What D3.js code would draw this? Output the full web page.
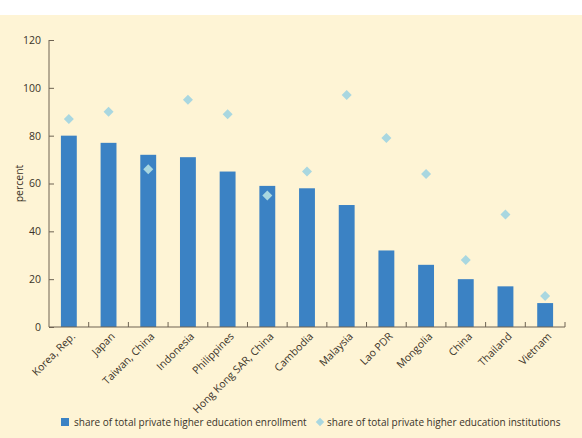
<!DOCTYPE html>
<html lang="en">
<head>
<meta charset="UTF-8">
<title>Private higher education share</title>
<script src="https://d3js.org/d3.v7.min.js"></script>
<style>
  body { margin: 0; background: #ffffff; font-family: 'Open Sans', Arial, sans-serif; }
  svg { display: block; }
</style>
</head>
<body>
<svg id="chart" width="582" height="438"></svg>
<script>
  // data
  const countries = ["Korea, Rep.", "Japan", "Taiwan, China", "Indonesia", "Philippines",
    "Hong Kong SAR, China", "Cambodia", "Malaysia", "Lao PDR", "Mongolia", "China", "Thailand", "Vietnam"];
  const enrollment = [80, 77, 72, 71, 65, 59, 58, 51, 32, 26, 20, 17, 10];
  const institutions = [87, 90, 66, 95, 89, 55, 65, 97, 79, 64, 28, 47, 13];
  const yTicks = [0, 20, 40, 60, 80, 100, 120];

  const svg = d3.select("#chart");
  const W = 582, H = 438;
  const margin = { left: 49, right: 17, top: 40, bottom: 111 };

  // cream panel
  svg.append("rect").attr("x", 0).attr("y", 15).attr("width", W).attr("height", H - 15)
    .attr("fill", "#fef4d5");

  const x = d3.scaleBand().domain(countries)
    .range([margin.left, W - margin.right]).paddingInner(0.6).paddingOuter(0.3);
  const y = d3.scaleLinear().domain([0, 120]).range([H - margin.bottom, margin.top]);

  const axisColor = "#6e6352";
  const textColor = "#3b3328";

  // bars
  svg.append("g").selectAll("rect")
    .data(countries)
    .enter().append("rect")
    .attr("x", d => x(d))
    .attr("width", x.bandwidth())
    .attr("y", (d, i) => y(enrollment[i]))
    .attr("height", (d, i) => y(0) - y(enrollment[i]))
    .attr("fill", "#3b82c4");

  // diamonds (square turned 45deg)
  const dia = d3.symbol().type(d3.symbolSquare).size(50);
  svg.append("g").selectAll("path")
    .data(countries)
    .enter().append("path")
    .attr("d", dia)
    .attr("transform", (d, i) => `translate(${x(d) + x.bandwidth() / 2},${y(institutions[i])}) rotate(45)`)
    .attr("fill", "#a9d7e0");

  // y axis
  const yAxis = d3.axisLeft(y).tickValues(yTicks).tickSize(-5).tickPadding(8);
  const gy = svg.append("g").attr("transform", `translate(${margin.left},0)`).call(yAxis);
  gy.select(".domain").attr("d", `M${0},${y(120)}V${y(0)}`);

  // x axis, ticks on band boundaries
  const bounds = countries.map(c => x(c) - x.step() * x.paddingInner() / 2);
  bounds.push(W - margin.right);
  const gx = svg.append("g");
  gx.append("line").attr("x1", margin.left).attr("x2", W - margin.right)
    .attr("y1", y(0)).attr("y2", y(0)).attr("stroke", axisColor);
  gx.selectAll(".tick").data(bounds.slice(1)).enter().append("line")
    .attr("x1", d => d).attr("x2", d => d)
    .attr("y1", y(0)).attr("y2", y(0) - 5).attr("stroke", axisColor);
  gx.selectAll("text").data(countries).enter().append("text")
    .attr("transform", d => `translate(${x(d) + x.bandwidth() / 2 + 7},${y(0) + 10}) rotate(-45)`)
    .attr("text-anchor", "end")
    .attr("font-size", 10.5)
    .attr("fill", textColor)
    .text(d => d);

  gy.selectAll("path, line").attr("stroke", axisColor);
  gy.selectAll("text").attr("font-size", 10.5).attr("fill", textColor).attr("font-family", "'Open Sans', Arial, sans-serif");

  // y label
  svg.append("text")
    .attr("transform", `translate(23,${y(60)}) rotate(-90)`)
    .attr("text-anchor", "middle")
    .attr("font-size", 10.5)
    .attr("fill", textColor)
    .text("percent");

  // legend
  const lg = svg.append("g").attr("font-size", 10).attr("fill", textColor);
  lg.append("rect").attr("x", 61).attr("y", 418).attr("width", 8).attr("height", 8).attr("fill", "#3b82c4");
  lg.append("text").attr("x", 74).attr("y", 426).text("share of total private higher education enrollment");
  lg.append("path").attr("d", d3.symbol().type(d3.symbolSquare).size(36))
    .attr("transform", "translate(320,422) rotate(45)").attr("fill", "#a9d7e0");
  lg.append("text").attr("x", 327).attr("y", 426).text("share of total private higher education institutions");
</script>
</body>
</html>
